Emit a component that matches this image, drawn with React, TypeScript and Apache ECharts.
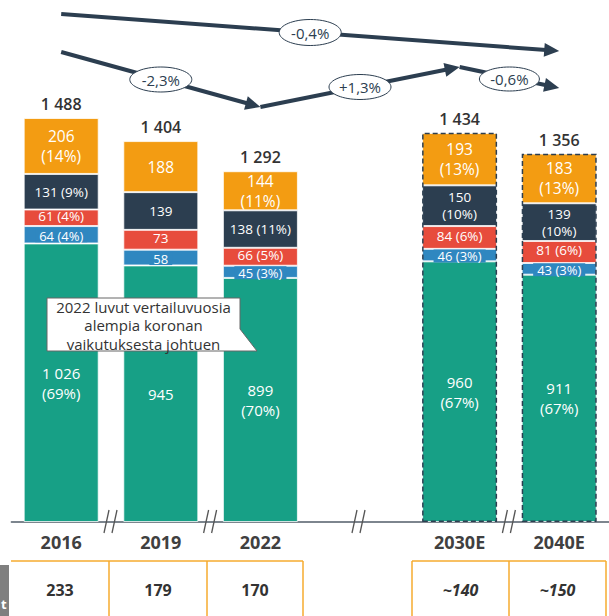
import React, { useEffect, useRef } from 'react';
import * as echarts from 'echarts';

const categories = ['2016', '2019', '2022', '', '2030E', '2040E'];
const tealValues = [1026, 945, 899, null, 960, 911];
const blueValues = [64, 58, 45, null, 46, 43];
const redValues = [61, 73, 66, null, 84, 81];
const navyValues = [131, 139, 138, null, 150, 139];
const orangeValues = [206, 188, 144, null, 193, 183];
const totals = [1488, 1404, 1292, null, 1434, 1356];

const tealLabels = ['1 026\n(69%)', '945', '899\n(70%)', '', '960\n(67%)', '911\n(67%)'];
const blueLabels = ['64 (4%)', '58', '45 (3%)', '', '46 (3%)', '43 (3%)'];
const redLabels = ['61 (4%)', '73', '66 (5%)', '', '84 (6%)', '81 (6%)'];
const navyLabels = ['131 (9%)', '139', '138 (11%)', '', '150\n(10%)', '139\n(10%)'];
const orangeLabels = ['206\n(14%)', '188', '144\n(11%)', '', '193\n(13%)', '183\n(13%)'];
const totalLabels = ['1 488', '1 404', '1 292', '', '1 434', '1 356'];
const forecast = [false, false, false, false, true, true];

const tableValues = ['233', '179', '170', '~140', '~150'];
const tableItalic = [false, false, false, true, true];
const growthLabels = ['-0,4%', '-2,3%', '+1,3%', '-0,6%'];
const calloutText = '2022 luvut vertailuvuosia\nalempia koronan\nvaikutuksesta johtuen';

const FONT = '"Open Sans", "DejaVu Sans", sans-serif';
const TEAL = '#17a086';
const BLUE = '#2f87c0';
const RED = '#e74c3c';
const NAVY = '#2c3e50';
const ORANGE = '#f39c12';
const TABLE_LINE = '#f6ab2f';

function mkSeries(name: string, values: (number | null)[], labels: string[], color: string, fontSize: number, lineHeight: number, bg: boolean, dy: number) {
  return {
    name,
    type: 'bar',
    stack: 'total',
    barWidth: 75,
    barGap: '-100%',
    z: 2,
    itemStyle: { color, borderColor: 'rgba(255,255,255,0.75)', borderWidth: 1 },
    label: {
      show: true,
      position: 'inside',
      color: '#fff',
      fontFamily: FONT,
      fontSize,
      lineHeight,
      offset: [0, dy],
      ...(bg ? { backgroundColor: color, padding: [0, 4] } : {}),
    },
    data: values.map((v, i) => (v == null ? '-' : { value: v, label: { formatter: labels[i] } })),
  };
}

export default function App() {
  const ref = useRef<HTMLDivElement>(null);
  useEffect(() => {
    const chart = echarts.init(ref.current!, null, { renderer: 'svg' });
    chart.setOption({
      animation: false,
      grid: { left: 11.4, right: -3.6, top: 33.3, bottom: 94 },
      xAxis: {
        type: 'category',
        data: categories,
        axisLine: { lineStyle: { color: '#525d69', width: 1.5 } },
        axisTick: { show: false },
        axisLabel: { fontFamily: FONT, fontSize: 18, fontWeight: 'bold', color: '#404040', margin: 11 },
      },
      yAxis: { type: 'value', min: 0, max: 1800, show: false },
      series: [
        mkSeries('teal', tealValues, tealLabels, TEAL, 15, 20, false, 0),
        mkSeries('blue', blueValues, blueLabels, BLUE, 13, 13, true, 1),
        mkSeries('red', redValues, redLabels, RED, 13.5, 14, false, -1.5),
        mkSeries('navy', navyValues, navyLabels, NAVY, 13.5, 17, false, 0),
        mkSeries('orange', orangeValues, orangeLabels, ORANGE, 15.5, 20, false, 0),
        {
          name: 'total',
          type: 'bar',
          barWidth: 75,
          barGap: '-100%',
          z: 5,
          label: { show: true, position: 'top', distance: 6, color: '#333', fontFamily: FONT, fontSize: 16, fontWeight: 600 },
          data: totals.map((v, i) =>
            v == null
              ? '-'
              : {
                  value: v,
                  label: { formatter: totalLabels[i] },
                  itemStyle: forecast[i]
                    ? { color: 'rgba(0,0,0,0)', borderColor: NAVY, borderWidth: 1.5, borderType: [5, 3] }
                    : { color: 'rgba(0,0,0,0)', borderWidth: 0 },
                }
          ),
        },
      ],
    });

    const cx = categories.map((_, i) => chart.convertToPixel({ xAxisIndex: 0 }, i) as number);
    const els: any[] = [];

    const arrow = (x1: number, y1: number, x2: number, y2: number) => {
      const dx = x2 - x1, dy = y2 - y1;
      const len = Math.sqrt(dx * dx + dy * dy);
      const ux = dx / len, uy = dy / len;
      const hl = 15, hw = 7;
      const bx = x2 - ux * hl, by = y2 - uy * hl;
      els.push({ type: 'line', z: 50, shape: { x1, y1, x2: bx + ux * 2, y2: by + uy * 2 }, style: { stroke: NAVY, lineWidth: 4 } });
      els.push({
        type: 'polygon', z: 50,
        shape: { points: [[x2, y2], [bx - uy * hw, by + ux * hw], [bx + uy * hw, by - ux * hw]] },
        style: { fill: NAVY },
      });
    };
    const bubble = (x: number, y: number, rx: number, ry: number, text: string) => {
      els.push({ type: 'ellipse', z: 60, shape: { cx: x, cy: y, rx, ry }, style: { fill: '#fff', stroke: NAVY, lineWidth: 1 } });
      els.push({
        type: 'text', z: 61, x, y,
        style: { text, align: 'center', verticalAlign: 'middle', fontFamily: FONT, fontSize: 15, fill: NAVY },
      });
    };

    // growth arrows
    const segs = [
      [cx[0], 14, cx[5], 51, 31, 13],
      [cx[0], 52, cx[2], 107, 31, 12.5],
      [cx[2], 107, cx[4], 67, 31, 12.5],
      [cx[4], 67, cx[5], 88, 30, 12],
    ];
    segs.forEach((s, i) => {
      arrow(s[0], s[1], s[2], s[3]);
      const mx = (s[0] + s[2]) / 2, my = (s[1] + s[3]) / 2 + (i === 3 ? 1.5 : 0);
      bubble(mx, my, s[4], s[5], growthLabels[i]);
    });

    // axis break marks
    const breaks = [(cx[0] + cx[1]) / 2, (cx[1] + cx[2]) / 2, cx[3] - 1, (cx[4] + cx[5]) / 2];
    breaks.forEach((b) => {
      [-6, 2].forEach((o) => {
        els.push({ type: 'line', z: 40, shape: { x1: b + o - 1, y1: 533, x2: b + o + 4, y2: 510 }, style: { stroke: '#555', lineWidth: 1.3 } });
      });
    });

    // callout
    els.push({
      type: 'polygon', z: 80,
      shape: { points: [[47, 298], [240, 298], [240, 329], [257, 351], [240, 351], [47, 351]] },
      style: { fill: '#fff', stroke: '#666', lineWidth: 1 },
    });
    els.push({
      type: 'text', z: 81, x: 143.5, y: 325,
      style: { text: calloutText, align: 'center', verticalAlign: 'middle', fontFamily: FONT, fontSize: 15, lineHeight: 18.5, fill: '#333' },
    });

    // table
    const groups = [[11, 109, 207, 303], [412, 509, 606]];
    groups.forEach((g, gi) => {
      els.push({ type: 'line', z: 40, shape: { x1: g[0], y1: 561, x2: g[g.length - 1], y2: 561 }, style: { stroke: TABLE_LINE, lineWidth: 1.5 } });
      g.forEach((x, k) => {
        if (gi === 0 && k === 0) return;
        els.push({ type: 'line', z: 40, shape: { x1: x, y1: 561, x2: x, y2: 616 }, style: { stroke: TABLE_LINE, lineWidth: 1.5 } });
      });
    });
    const cellCenters = [60, 158, 255, 460.5, 557.5];
    tableValues.forEach((t, i) => {
      els.push({
        type: 'text', z: 41, x: cellCenters[i], y: 590,
        style: {
          text: t, align: 'center', verticalAlign: 'middle', fontFamily: FONT, fontSize: 16,
          fontWeight: 'bold', fontStyle: tableItalic[i] ? 'italic' : 'normal', fill: '#333',
        },
      });
    });
    els.push({ type: 'rect', z: 40, shape: { x: 0, y: 565, width: 9, height: 51 }, style: { fill: '#7f7f7f' } });
    els.push({ type: 'text', z: 41, x: 1, y: 604, style: { text: 't', verticalAlign: 'middle', fontFamily: FONT, fontSize: 13, fontWeight: 'bold', fill: '#fff' } });

    chart.setOption({ graphic: { elements: els } });
    return () => chart.dispose();
  }, []);
  return <div ref={ref} style={{ position: 'absolute', left: 0, top: 0, width: 609, height: 616 }} />;
}
